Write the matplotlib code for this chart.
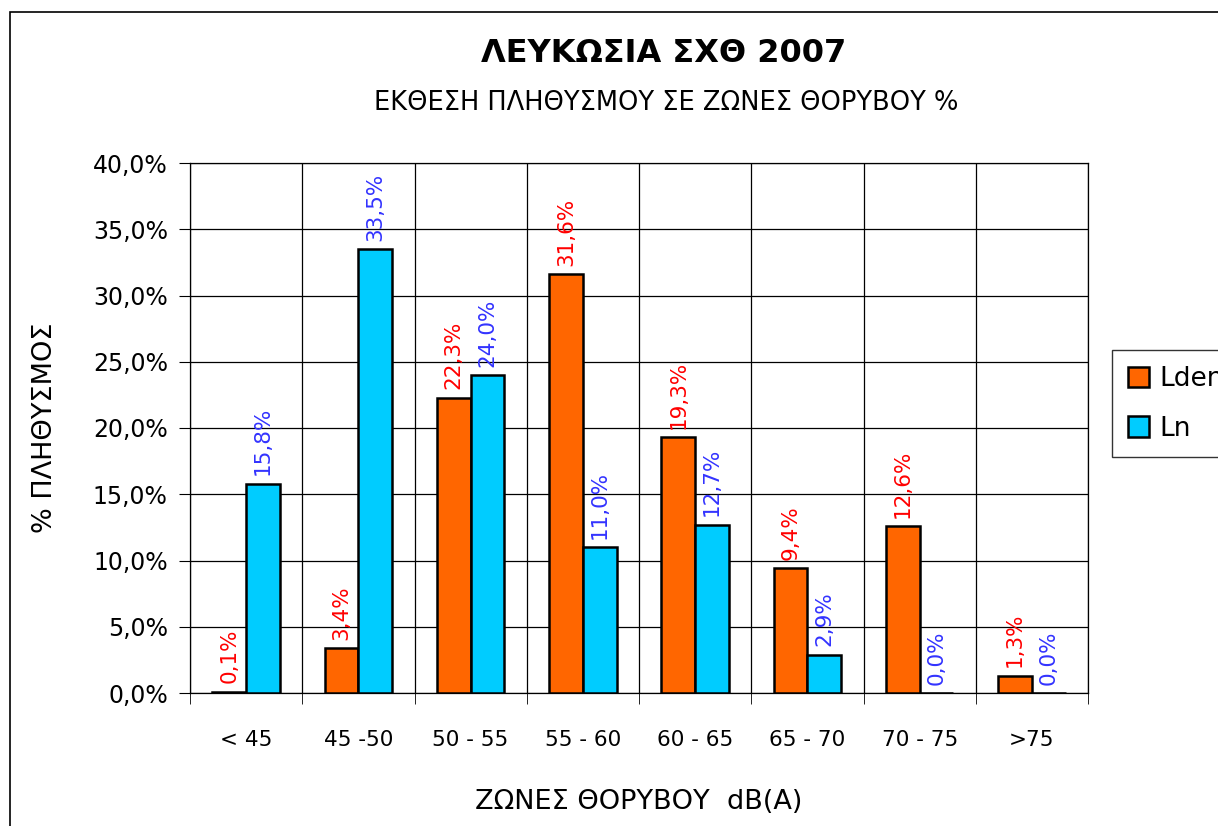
import numpy as np
from matplotlib import pyplot as plt
from matplotlib.patches import Rectangle

# data (percent of population)
zones = ["< 45", "45 -50", "50 - 55", "55 - 60", "60 - 65", "65 - 70", "70 - 75", ">75"]
lden = [0.1, 3.4, 22.3, 31.6, 19.3, 9.4, 12.6, 1.3]
ln = [15.8, 33.5, 24.0, 11.0, 12.7, 2.9, 0.0, 0.0]

plt.rcParams['font.family'] = ['DejaVu Sans']

fig = plt.figure(figsize=(12.18, 8.26), dpi=100)
ax = fig.add_axes([190/1218, 1-693/826, (1088-190)/1218, (693-163)/826])

x = np.arange(len(zones))
w = 0.3
b1 = ax.bar(x - w/2, lden, w, color='#FF6600', edgecolor='black', linewidth=1.8, label='Lden', zorder=3)
b2 = ax.bar(x + w/2, ln, w, color='#00CCFF', edgecolor='black', linewidth=1.8, label='Ln', zorder=3)

def fmt(v):
    return ("%.1f" % v).replace('.', ',') + '%'

for xi, v in zip(x - w/2, lden):
    ax.annotate(fmt(v), (xi, v), xytext=(0, 6), textcoords='offset points',
                rotation=90, ha='center', va='bottom', color='#FF0000', fontsize=15.5, zorder=4)
for xi, v in zip(x + w/2, ln):
    ax.annotate(fmt(v), (xi, v), xytext=(0, 6), textcoords='offset points',
                rotation=90, ha='center', va='bottom', color='#3333FF', fontsize=15.5, zorder=4)

ax.set_xlim(-0.5, len(zones) - 0.5)
ax.set_ylim(0, 40)
ax.set_yticks(np.arange(0, 41, 5))
ax.set_yticklabels([("%.1f" % t).replace('.', ',') + '%' for t in np.arange(0, 41, 5)], fontsize=17)
ax.set_xticks(x)
ax.set_xticklabels(zones, fontsize=15.5)
ax.set_xticks(np.arange(-0.5, len(zones), 1), minor=True)
ax.tick_params(axis='x', which='major', length=0, pad=27)
ax.tick_params(axis='x', which='minor', length=8, direction='out', color='black')
ax.tick_params(axis='y', length=8, direction='out', color='black', pad=8)

ax.grid(axis='y', which='major', color='black', linewidth=0.9, zorder=0)
ax.grid(axis='x', which='minor', color='black', linewidth=0.9, zorder=0)
for s in ax.spines.values():
    s.set_color('black')
    s.set_linewidth(0.9)

ax.set_ylabel('% ΠΛΗΘΥΣΜΟΣ', fontsize=19.5, labelpad=25)
ax.set_xlabel('ΖΩΝΕΣ ΘΟΡΥΒΟΥ  dB(A)', fontsize=19.5, labelpad=28)

fig.text(0.545, 1-53/826, 'ΛΕΥΚΩΣΙΑ ΣΧΘ 2007', ha='center', va='center',
         fontsize=23, fontweight='bold')
fig.text(0.547, 1-103/826, 'ΕΚΘΕΣΗ ΠΛΗΘΥΣΜΟΥ ΣΕ ΖΩΝΕΣ ΘΟΡΥΒΟΥ %', ha='center', va='center',
         fontsize=18.5)

leg = fig.legend(handles=[b1, b2], loc='upper left', bbox_to_anchor=(1112/1218, 1-350/826),
                 fontsize=19, frameon=True, fancybox=False, edgecolor='black',
                 handlelength=0.8, handleheight=0.8, handletextpad=0.4,
                 labelspacing=0.9, borderpad=0.6, borderaxespad=0)
leg.get_frame().set_linewidth(1.0)

# outer chart border (cut off at right and bottom)
fig.patches.append(Rectangle((10/1218, -0.05), 1.2, 1-12/826+0.05, transform=fig.transFigure,
                             fill=False, edgecolor='black', linewidth=1.2))

fig.savefig('out.png', dpi=100)
